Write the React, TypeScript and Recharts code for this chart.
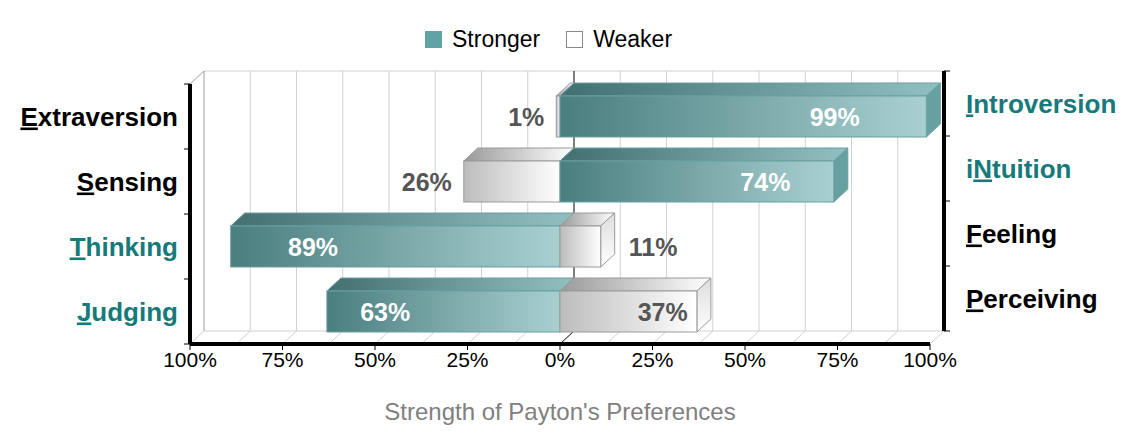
import React from "react";
import { Bar, BarChart, ReferenceArea, XAxis, YAxis } from "recharts";

const leftTraits = ["Extraversion", "Sensing", "Thinking", "Judging"];
const rightTraits = ["Introversion", "iNtuition", "Feeling", "Perceiving"];
const leftScores = [1, 26, 89, 63];
const rightScores = [99, 74, 11, 37];
const rightUnderline = [0, 1, 0, 0];
const xTicks = [-100, -75, -50, -25, 0, 25, 50, 75, 100];

const FONT = '"Liberation Sans", Arial, sans-serif';
const TEAL = "#167a7a";
const DX = 14;
const DY = -13;

const data = leftTraits.map((t, i) => ({
  name: t,
  rightName: rightTraits[i],
  left: -leftScores[i],
  right: rightScores[i],
  leftStrong: leftScores[i] > rightScores[i],
}));

const makeShape = (side: "left" | "right") => (props: any) => {
  const { x, y, width, height, payload } = props;
  const x0 = Math.min(x, x + width);
  const w = Math.abs(width);
  const strong = side === "left" ? payload.leftStrong : !payload.leftStrong;
  const value = side === "left" ? -payload.left : payload.right;
  const front = strong ? "url(#strongFront)" : "url(#weakFront)";
  const top = strong ? "url(#strongTop)" : "url(#weakTop)";
  const sideFill = strong ? "#67a0a0" : "url(#weakSide)";
  const stroke = strong ? "#6b9fa0" : "#9a9a9a";
  const x1 = x0 + w;
  let lx: number;
  let anchor: "start" | "middle" | "end" = "middle";
  if (w >= 120) {
    lx = side === "left" ? x0 + w * 0.25 : x0 + w * 0.75;
  } else if (side === "left") {
    lx = x0 - 12;
    anchor = "end";
  } else {
    lx = x1 + DX + 14;
    anchor = "start";
  }
  const inside = w >= 120;
  return (
    <g>
      <polygon
        points={`${x0},${y} ${x0 + DX},${y + DY} ${x1 + DX},${y + DY} ${x1},${y}`}
        fill={top}
        stroke={stroke}
        strokeWidth={1}
      />
      {side === "right" && (
        <polygon
          points={`${x1},${y} ${x1 + DX},${y + DY} ${x1 + DX},${y + height + DY} ${x1},${y + height}`}
          fill={sideFill}
          stroke={stroke}
          strokeWidth={1}
        />
      )}
      <rect x={x0} y={y} width={w} height={height} fill={front} stroke={stroke} strokeWidth={1} />
      <text
        x={lx}
        y={y + height / 2 + 9}
        textAnchor={anchor}
        fontFamily={FONT}
        fontWeight="bold"
        fontSize={25}
        fill={inside && strong ? "#ffffff" : "#555555"}
      >
        {value}%
      </text>
    </g>
  );
};

const LeftTick = (props: any) => {
  const { x, y, index } = props;
  const t = leftTraits[index];
  const strong = data[index].leftStrong;
  return (
    <text x={x - 4} y={y + 9} textAnchor="end" fontFamily={FONT} fontWeight="bold" fontSize={26} fill={strong ? TEAL : "#000"}>
      <tspan textDecoration="underline">{t[0]}</tspan>
      {t.slice(1)}
    </text>
  );
};

const RightTick = (props: any) => {
  const { x, y, index } = props;
  const t = rightTraits[index];
  const u = rightUnderline[index];
  const strong = !data[index].leftStrong;
  return (
    <text x={x + 28} y={y + 9 - 13} textAnchor="start" fontFamily={FONT} fontWeight="bold" fontSize={26} fill={strong ? TEAL : "#000"}>
      {t.slice(0, u)}
      <tspan textDecoration="underline">{t[u]}</tspan>
      {t.slice(u + 1)}
    </text>
  );
};

const Frame = (props: any) => {
  const { x, y, width, height } = props;
  const bottom = y + height;
  const lines = [];
  for (let i = 0; i <= 16; i++) {
    const gx = x + (width * i) / 16;
    const c = i === 8 ? "#000" : "#d0d0d0";
    lines.push(
      <g key={i}>
        {i > 0 && i < 16 && <line x1={gx + DX} y1={y + DY} x2={gx + DX} y2={bottom + DY} stroke={c} strokeWidth={1} />}
        <line x1={gx} y1={bottom} x2={gx + DX} y2={bottom + DY} stroke={c} strokeWidth={1} />
      </g>
    );
  }
  const ticks = [];
  for (let i = 0; i <= 4; i++) {
    const ty = y + DY + (height * i) / 4;
    ticks.push(<line key={i} x1={x + width + DX} y1={ty} x2={x + width + DX + 6} y2={ty} stroke="#000" strokeWidth={1} />);
    const ly = y + (height * i) / 4;
    ticks.push(<line key={"l" + i} x1={x - 6} y1={ly} x2={x} y2={ly} stroke="#000" strokeWidth={1} />);
  }
  return (
    <g>
      <line x1={x + DX} y1={y + DY} x2={x + width + DX} y2={y + DY} stroke="#d0d0d0" />
      <line x1={x + DX} y1={y + DY} x2={x + DX} y2={bottom + DY} stroke="#a0a0a0" />
      <line x1={x} y1={y} x2={x + DX} y2={y + DY} stroke="#a0a0a0" />
      <line x1={x + DX} y1={bottom + DY} x2={x + width + DX} y2={bottom + DY} stroke="#d0d0d0" />
      {lines}
      <line x1={x + width + DX} y1={y + DY} x2={x + width + DX} y2={bottom + DY} stroke="#000" strokeWidth={4} />
      {ticks}
    </g>
  );
};

export default function App() {
  return (
    <div style={{ position: "relative", width: 1114, height: 424, fontFamily: FONT }}>
      <svg width={0} height={0} style={{ position: "absolute" }}>
        <defs>
          <linearGradient id="strongFront" x1="0" x2="1" y1="0" y2="0">
            <stop offset="0" stopColor="#4a7e7f" />
            <stop offset="1" stopColor="#a9d0d1" />
          </linearGradient>
          <linearGradient id="strongTop" x1="0" x2="1" y1="0" y2="0">
            <stop offset="0" stopColor="#426f6f" />
            <stop offset="1" stopColor="#92c0c1" />
          </linearGradient>
          <linearGradient id="weakFront" x1="0" x2="1" y1="0" y2="0">
            <stop offset="0" stopColor="#bcbcbc" />
            <stop offset="1" stopColor="#ffffff" />
          </linearGradient>
          <linearGradient id="weakTop" x1="0" x2="1" y1="0" y2="0">
            <stop offset="0" stopColor="#9a9a9a" />
            <stop offset="1" stopColor="#ffffff" />
          </linearGradient>
          <linearGradient id="weakSide" x1="0" x2="0" y1="0" y2="1">
            <stop offset="0" stopColor="#dddddd" />
            <stop offset="1" stopColor="#ffffff" />
          </linearGradient>
        </defs>
      </svg>
      <div style={{ position: "absolute", top: 18, left: 417, display: "flex", alignItems: "center", fontSize: 23, color: "#000", whiteSpace: "nowrap" }}>
        <span style={{ width: 17, height: 17, background: "#5fa3a5", display: "inline-block", marginRight: 10 }} />
        <span style={{ marginRight: 26 }}>Stronger</span>
        <span style={{ width: 15, height: 15, background: "#fff", border: "1px solid #888", display: "inline-block", marginRight: 10 }} />
        <span>Weaker</span>
      </div>
      <BarChart
        width={1114}
        height={424}
        data={data}
        layout="vertical"
        stackOffset="sign"
        barSize={41}
        margin={{ top: 76, right: 0, bottom: 0, left: 0 }}
      >
        <XAxis
          type="number"
          domain={[-100, 100]}
          ticks={xTicks}
          tickFormatter={(v: number) => `${Math.abs(v)}%`}
          tick={{ fill: "#000", fontSize: 21, fontFamily: FONT }}
          tickLine={{ stroke: "#000" }}
          axisLine={{ stroke: "#000", strokeWidth: 4 }}
          height={88}
          label={{ value: "Strength of Payton's Preferences", position: "insideBottom", offset: 12, fill: "#808080", fontSize: 24, fontFamily: FONT }}
        />
        <YAxis
          yAxisId="left"
          type="category"
          dataKey="name"
          width={182}
          tick={<LeftTick />}
          tickLine={false}
          axisLine={{ stroke: "#000", strokeWidth: 4 }}
        />
        <YAxis
          yAxisId="right"
          type="category"
          dataKey="rightName"
          orientation="right"
          width={192}
          tick={<RightTick />}
          tickLine={false}
          axisLine={false}
        />
        <ReferenceArea yAxisId="left" x1={-100} x2={100} shape={<Frame />} />
        <Bar yAxisId="left" dataKey="left" stackId="a" shape={makeShape("left")} isAnimationActive={false} />
        <Bar yAxisId="left" dataKey="right" stackId="a" shape={makeShape("right")} isAnimationActive={false} />
      </BarChart>
    </div>
  );
}
